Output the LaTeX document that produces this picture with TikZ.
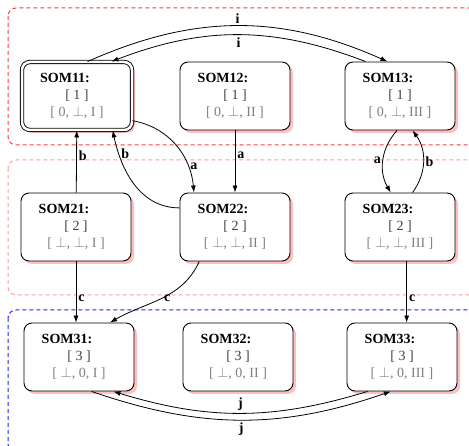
\documentclass[tikz,border=0pt]{standalone}
\usepackage{fontspec}
\setmainfont{Liberation Serif}
\usetikzlibrary{arrows.meta,shadows}
\tikzset{>={Latex[width=5pt,length=7pt]}}
\definecolor{grpred}{HTML}{FF3C3C}
\definecolor{grppink}{HTML}{FF9C9C}
\definecolor{grpblue}{HTML}{2020FF}
\definecolor{shadowpink}{HTML}{FFBDBD}
\newcommand\somtext[3]{\textbf{#1}\hspace*{24pt}\\{\color{black!75}[\ #2\ ]}\\{\color{black!50}[\ #3\ ]}}

\tikzset{
  som/.style={draw, rounded corners=8pt, fill=white, minimum width=110pt,
    minimum height=68pt, align=center, font=\fontsize{14}{17}\selectfont,
    line width=0.9pt,
    drop shadow={shadow xshift=3pt, shadow yshift=-3pt, fill=shadowpink, opacity=1}},
  somroot/.style={som, double, double distance=2.5pt},
  lbl/.style={font=\fontsize{14}{17}\selectfont\bfseries, inner sep=2pt},
  grp/.style={dash pattern=on 4pt off 3pt, rounded corners=8pt, line width=1pt},
}

\begin{document}
\begin{tikzpicture}[x=1pt, y=1pt, line width=0.8pt]

  \useasboundingbox (0,0) rectangle (469,-446);

  % groups (cut off at the right edge)
  \begin{scope}
    \clip (0,0) rectangle (469,-446);
    \draw[grp, grpred] (8,-8) rectangle (476,-145);
    \draw[grp, grppink] (8,-160) rectangle (476,-295);
    \draw[grp, grpblue] (8,-310) rectangle (476,-452);
  \end{scope}

  \node[somroot] (som11) at (77,-96) {\somtext{SOM11:}{1}{0, $\bot$, I}};
  \node[som] (som12) at (235,-96) {\somtext{SOM12:}{1}{0, $\bot$, II}};
  \node[som] (som13) at (400,-96) {\somtext{SOM13:}{1}{0, $\bot$, III}};

  \node[som] (som21) at (76,-227) {\somtext{SOM21:}{2}{$\bot$, $\bot$, I}};
  \node[som] (som22) at (235,-227) {\somtext{SOM22:}{2}{$\bot$, $\bot$, II}};
  \node[som] (som23) at (400,-227) {\somtext{SOM23:}{2}{$\bot$, $\bot$, III}};

  \node[som] (som31) at (79,-357) {\somtext{SOM31:}{3}{$\bot$, 0, I}};
  \node[som] (som32) at (238,-357) {\somtext{SOM32:}{3}{$\bot$, 0, II}};
  \node[som] (som33) at (402,-357) {\somtext{SOM33:}{3}{$\bot$, 0, III}};

  % i
  \draw[->] (som11.73) to[bend left=24] node[lbl, above]{i} (som13.110);
  \draw[->] (som13.135) to[bend right=21] node[lbl, below]{i} (som11.45);

  % a
  \draw[->] (som11.-24) to[out=-10, in=95] node[lbl, right, pos=.75]{a} (som22.140);
  \draw[->] (som12) -- node[lbl, right, pos=.4]{a} (som22);
  \draw[->] (som13.-95) to[bend right=36] node[lbl, left]{a} (som23.105);

  % b
  \draw[->] (som23.70) to[bend right=36] node[lbl, right]{b} (som13.-70);
  \draw[->] (som21) -- node[lbl, right, pos=.6]{b} (som11);
  \draw[->] (som22.161) to[out=180, in=-78] node[lbl, right, pos=.8]{b} (som11.-44);

  % c
  \draw[->] (som21.south) -- node[lbl, right, pos=.6]{c} (som21.south |- som31.north);
  \draw[->] (som22.-136) to[out=-115, in=30] node[lbl, right, pos=.5]{c} (som31.48);
  \draw[->] (som23.-79) -- node[lbl, right, pos=.6]{c} (som23.-79 |- som33.north);

  % j
  \draw[->] (som33.-135) to[bend left=17] node[lbl, above]{j} (som31.-45);
  \draw[->] (som31.-70) to[bend right=19] node[lbl, below]{j} (som33.-108);

\end{tikzpicture}
\end{document}
